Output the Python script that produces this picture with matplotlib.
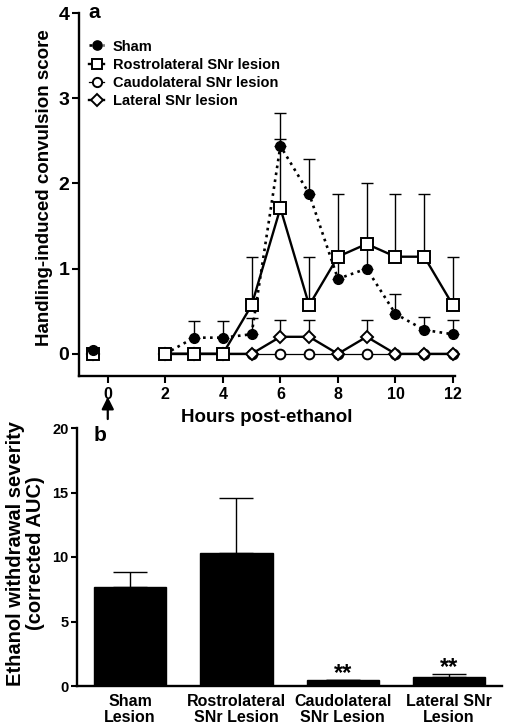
import numpy as np
import matplotlib
matplotlib.use("Agg")
import matplotlib.pyplot as plt

plt.rcParams['font.family'] = ['Liberation Sans', 'DejaVu Sans']
plt.rcParams['font.weight'] = 'bold'
plt.rcParams['axes.labelweight'] = 'bold'

# ---------- Panel a data ----------
hours = [2, 3, 4, 5, 6, 7, 8, 9, 10, 11, 12]
baseline_x = -0.5
sham = [0.0, 0.19, 0.19, 0.23, 2.44, 1.88, 0.88, 1.0, 0.47, 0.28, 0.23]
sham_sem = [0.0, 0.19, 0.19, 0.19, 0.39, 0.41, 0.25, 0.27, 0.23, 0.15, 0.17]
sham_base = 0.04
rostro = [0.0, 0.0, 0.0, 0.57, 1.71, 0.57, 1.14, 1.29, 1.14, 1.14, 0.57]
rostro_sem = [0.0, 0.0, 0.0, 0.57, 0.81, 0.57, 0.74, 0.71, 0.74, 0.74, 0.57]
rostro_base = 0.0
caudo = [0.0, 0.0, 0.0, 0.0, 0.0, 0.0, 0.0, 0.0, 0.0, 0.0, 0.0]
caudo_base = 0.0
lateral = [0.0, 0.0, 0.0, 0.0, 0.2, 0.2, 0.0, 0.2, 0.0, 0.0, 0.0]
lateral_sem = [0.0, 0.0, 0.0, 0.0, 0.2, 0.2, 0.0, 0.2, 0.0, 0.0, 0.0]
lateral_base = 0.0
series_labels = ["Sham", "Rostrolateral SNr lesion", "Caudolateral SNr lesion", "Lateral SNr lesion"]

# ---------- Panel b data ----------
groups = ["Sham\nLesion", "Rostrolateral\nSNr Lesion", "Caudolateral\nSNr Lesion", "Lateral SNr\nLesion"]
auc = [7.65, 10.33, 0.45, 0.67]
auc_sem = [1.16, 4.22, 0.0, 0.26]
signif = ["", "", "**", "**"]

fig = plt.figure(figsize=(5.07, 7.28), dpi=100)
W, H = 507, 728

# ---------- Panel a ----------
ax = fig.add_axes([79 / W, 1 - 376 / H, (455 - 79) / W, (376 - 13) / H])
ax.set_xlim(-1, 12.07)
ax.set_ylim(-0.26, 4)

def up_err(x, y, e):
    c = ax.errorbar(x, y, yerr=[np.zeros(len(e)), e], fmt='none', ecolor='black',
                    elinewidth=1.0, capsize=4, capthick=1.0, zorder=1)
    for art in c.lines[1] + c.lines[2]:
        art.set_clip_on(False)

up_err(hours, sham, sham_sem)
up_err(hours, rostro, rostro_sem)
up_err(hours, lateral, lateral_sem)

l_caudo, = ax.plot(hours, caudo, '-', color='black', lw=0.9, marker='o', ms=7,
                   mfc='white', mec='black', mew=1.4, zorder=3, label=series_labels[2], clip_on=False)
l_lat, = ax.plot(hours, lateral, '-', color='black', lw=1.7, marker='D', ms=6.3,
                 mfc='white', mec='black', mew=1.4, zorder=4, label=series_labels[3], clip_on=False)
l_sham, = ax.plot(hours, sham, ':', color='black', lw=1.9, marker='o', ms=7,
                  mfc='black', mec='black', zorder=5, label=series_labels[0], clip_on=False)
l_ros, = ax.plot(hours, rostro, '-', color='black', lw=1.7, marker='s', ms=8,
                 mfc='white', mec='black', mew=1.4, zorder=6, label=series_labels[1], clip_on=False)

# baseline (unconnected) points
ax.plot([baseline_x], [caudo_base], 'o', ms=7, mfc='white', mec='black', mew=1.4, zorder=3)
ax.plot([baseline_x], [lateral_base], 'D', ms=6.3, mfc='white', mec='black', mew=1.4, zorder=4)
ax.plot([baseline_x], [rostro_base], 's', ms=8, mfc='white', mec='black', mew=1.4, zorder=5)
ax.plot([baseline_x], [sham_base], 'o', ms=7, mfc='black', mec='black', zorder=6)

ax.set_xticks([0, 2, 4, 6, 8, 10, 12])
ax.set_yticks([0, 1, 2, 3, 4])
ax.tick_params(axis='x', labelsize=11.5, width=1.5, length=5, pad=3)
ax.tick_params(axis='y', labelsize=14, width=1.5, length=5, pad=2)
for s in ['top', 'right']:
    ax.spines[s].set_visible(False)
for s in ['left', 'bottom']:
    ax.spines[s].set_linewidth(1.7)
ax.set_xlabel("Hours post-ethanol", fontsize=13.5, labelpad=5)
ax.set_ylabel("Handling-induced convulsion score", fontsize=13.5)
ax.yaxis.set_label_coords(-0.07, 0.52)
ax.text(0.025, 1.0, "a", transform=ax.transAxes, fontsize=15, fontweight='bold',
        ha='left', va='center')
ax.annotate('', xy=(0, -0.505), xytext=(0, -0.765), xycoords='data',
            arrowprops=dict(arrowstyle='-|>,head_length=0.6,head_width=0.3',
                            color='black', lw=1.6, mutation_scale=12,
                            shrinkA=0, shrinkB=0),
            annotation_clip=False)
leg = ax.legend(handles=[l_sham, l_ros, l_caudo, l_lat], loc='upper left',
                bbox_to_anchor=(0.0, 0.955), frameon=False, fontsize=10.5,
                handlelength=1.0, handletextpad=0.6, labelspacing=0.28,
                borderaxespad=0.3, markerscale=0.95)

# ---------- Panel b ----------
bx = fig.add_axes([77 / W, 1 - 686 / H, (502 - 77) / W, (686 - 428) / H])
xpos = np.arange(len(groups))
bx.bar(xpos, auc, width=0.68, color='black', edgecolor='black', zorder=2)
bx.errorbar(xpos, auc, yerr=[np.zeros(len(auc_sem)), auc_sem], fmt='none',
            ecolor='black', elinewidth=1.0, capsize=12.5, capthick=1.0, zorder=1)
for xi, yi, ei, s in zip(xpos, auc, auc_sem, signif):
    if s:
        bx.text(xi, yi + ei - 0.35, s, ha='center', va='bottom', fontsize=17,
                fontweight='bold')
bx.set_xlim(-0.5, 3.5)
bx.set_ylim(0, 20)
bx.set_xticks(xpos)
bx.set_xticklabels(groups, fontsize=11.5, linespacing=1.05)
bx.set_yticks([0, 5, 10, 15, 20])
bx.tick_params(axis='x', length=0, pad=6)
bx.tick_params(axis='y', labelsize=10.5, width=1.5, length=4, pad=2)
for s in ['top', 'right']:
    bx.spines[s].set_visible(False)
for s in ['left', 'bottom']:
    bx.spines[s].set_linewidth(1.7)
bx.set_ylabel("Ethanol withdrawal severity\n(corrected AUC)", fontsize=14.5, linespacing=1.05)
bx.yaxis.set_label_coords(-0.075, 0.515)
bx.text(0.04, 0.97, "b", transform=bx.transAxes, fontsize=15, fontweight='bold',
        ha='left', va='center')

fig.savefig("out.png", dpi=100)
